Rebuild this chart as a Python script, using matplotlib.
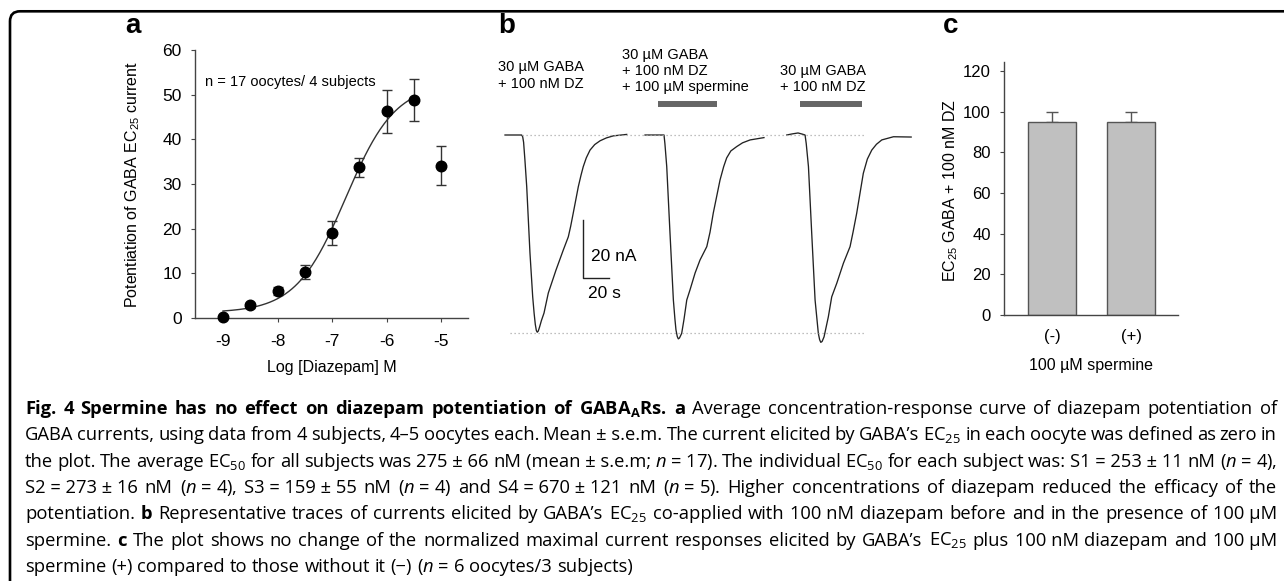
import matplotlib
matplotlib.use('Agg')
import matplotlib.pyplot as plt
import numpy as np
from matplotlib.patches import FancyBboxPatch
from matplotlib.transforms import IdentityTransform

W, H, DPI = 1284, 581, 100

plt.rcParams['font.family'] = ['Liberation Sans', 'DejaVu Sans']
plt.rcParams['mathtext.fontset'] = 'custom'
plt.rcParams['mathtext.default'] = 'regular'
plt.rcParams['mathtext.rm'] = 'Open Sans'
plt.rcParams['mathtext.it'] = 'Open Sans:italic'
plt.rcParams['mathtext.bf'] = 'Open Sans:bold'

# ---------------- panel a data ----------------
log_conc = [-9, -8.5, -8, -7.5, -7, -6.5, -6, -5.5, -5]
potentiation = [0.2, 2.8, 6.0, 10.3, 19.1, 33.7, 46.3, 48.8, 34.1]
potentiation_sem = [0.3, 0.5, 0.9, 1.5, 2.7, 2.2, 4.8, 4.8, 4.4]
fit_bottom, fit_top, fit_log_ec50, fit_hill = 1.2, 52.5, -6.75, 0.95
fit_range = (-9.0, -5.5)
a_xticks = [-9, -8, -7, -6, -5]
a_yticks = [0, 10, 20, 30, 40, 50, 60]

# ---------------- panel b data (time s, current nA) ----------------
trace_start = [0.0, 107.7, 216.7]
trace1_t = [0, 12.8, 13.6, 14.3, 15.3, 16.7, 19.2, 21.3, 22.4, 23.3, 24.1, 24.8, 25.6, 26.6,
            28.0, 30.0, 33.3, 39.2, 44.8, 48.7, 50.5, 52.5, 56.4, 58.5, 60.2, 62.5, 65.4, 69.0,
            73.1, 78.0, 83.3, 93.6]
trace1_i = [0, 0, -0.6, -2.5, -8.5, -17.8, -40.7, -55.8, -61.5, -65.3, -67.4, -68.0, -67.6,
            -66.2, -64.0, -61.4, -54.5, -46.6, -39.7, -35.1, -31.5, -26.9, -17.8, -13.8, -10.9,
            -7.9, -5.2, -3.3, -2.0, -1.0, -0.3, 0.2]
trace2_t = [0, 14.6, 15.3, 16.7, 19.2, 21.8, 23.0, 23.8, 24.8, 25.6, 26.5, 28.2, 30.0, 32.1,
            34.6, 38.5, 42.3, 47.5, 50.0, 52.5, 57.7, 60.5, 62.8, 66.0, 70.5, 75.0, 80.8, 91.5]
trace2_i = [0, 0, -3.0, -10.9, -33.8, -56.9, -63.5, -67.2, -69.5, -70.3, -70.0, -68.4, -63.5,
            -56.9, -53.4, -47.6, -43.1, -38.5, -33.5, -26.9, -15.5, -10.9, -7.9, -5.5, -4.0,
            -2.7, -1.7, -0.9]
trace3_t = [0, 4.5, 8.7, 12.0, 14.1, 15.0, 16.7, 19.2, 21.8, 24.3, 25.3, 26.2, 27.2, 28.7,
            32.0, 34.6, 38.5, 43.6, 48.7, 51.0, 53.8, 58.9, 62.0, 65.4, 69.0, 73.1, 82.1, 95.7]
trace3_i = [0, 0.4, 0.7, 0.3, 0, -3.0, -10.9, -33.8, -56.9, -68.4, -70.6, -71.5, -71.2, -69.6,
            -62.7, -55.8, -51.1, -44.2, -38.5, -33.5, -27.0, -13.2, -8.3, -5.2, -3.2, -1.7,
            -0.6, -0.7]
baseline_ref = (0.0, 13.0, 276.0)        # level, t from, t to
peak_ref = (-68.3, 4.0, 277.0)
application_start = [117.7, 226.9]
application_dur = [45.3, 47.7]
application_level = 10.7
scale_t0, scale_i0 = 60.3, -49.4
scale_nA, scale_s = 20, 20
b_labels = ["30 µM GABA\n+ 100 nM DZ",
            "30 µM GABA\n+ 100 nM DZ\n+ 100 µM spermine",
            "30 µM GABA\n+ 100 nM DZ"]

# ---------------- panel c data ----------------
c_groups = ['(-)', '(+)']
c_values = [95, 95]
c_sem = [5, 5]
c_yticks = [0, 20, 40, 60, 80, 100, 120]

# ---------------- caption ----------------
caption_lines = [
    [('b', r"Fig. 4 Spermine has no effect on diazepam potentiation of GABA$_A$Rs. a"),
     ('r', "Average concentration-response curve of diazepam potentiation of")],
    [('r', r"GABA currents, using data from 4 subjects, 4–5 oocytes each. Mean~±~s.e.m. The current elicited by GABA’s EC$_{25}$ in each oocyte was defined as zero in")],
    [('r', r"the plot. The average EC$_{50}$ for all subjects was 275~±~66 nM (mean~±~s.e.m; $\mathit{n}$~=~17). The individual EC$_{50}$ for each subject was: S1~=~253~±~11 nM ($\mathit{n}$~=~4),")],
    [('r', r"S2~=~273~±~16 nM ($\mathit{n}$~=~4), S3~=~159~±~55 nM ($\mathit{n}$~=~4) and S4~=~670~±~121 nM ($\mathit{n}$~=~5). Higher concentrations of diazepam reduced the efficacy of the")],
    [('r', "potentiation."), ('b', "b"),
     ('r', r"Representative traces of currents elicited by GABA’s EC$_{25}$ co-applied with 100~nM diazepam before and in the presence of 100~µM")],
    [('r', "spermine."), ('b', "c"),
     ('r', r"The plot shows no change of the normalized maximal current responses elicited by GABA’s EC$_{25}$ plus 100~nM diazepam and 100~µM")],
    [('r', r"spermine (+) compared to those without it (−) ($\mathit{n}$~=~6 oocytes/3 subjects)")],
]

# =====================================================================
fig = plt.figure(figsize=(W / DPI, H / DPI), dpi=DPI)
renderer = fig.canvas.get_renderer()


def fx(x):
    return x / W


def fy(y):
    return 1 - y / H


def axes_px(left, top, right, bottom):
    return fig.add_axes([fx(left), fy(bottom), (right - left) / W, (bottom - top) / H])


# border
border = FancyBboxPatch((10, -60), 1400, H - 11.3 + 60,
                        boxstyle='round,pad=0,rounding_size=10',
                        transform=IdentityTransform(), fill=False,
                        edgecolor='black', linewidth=1.9)
fig.add_artist(border)

SP = '#444444'

# ---------------- panel a ----------------
axa = axes_px(195, 50, 468, 318)
axa.set_xlim(-9.514, -4.505)
axa.set_ylim(0, 60)
xx = np.linspace(fit_range[0], fit_range[1], 200)
yy = fit_bottom + (fit_top - fit_bottom) / (1 + 10 ** ((fit_log_ec50 - xx) * fit_hill))
axa.plot(xx, yy, color='#333333', lw=1.0, zorder=2)
axa.errorbar(log_conc, potentiation, yerr=potentiation_sem, fmt='none', ecolor='#333333',
             elinewidth=1.0, capsize=3.5, capthick=1.0, zorder=3, clip_on=False)
axa.plot(log_conc, potentiation, 'o', color='black', ms=7.6, zorder=4, clip_on=False)
for s in ['top', 'right']:
    axa.spines[s].set_visible(False)
for s in ['left', 'bottom']:
    axa.spines[s].set_color(SP)
    axa.spines[s].set_linewidth(1.0)
axa.set_xticks(a_xticks)
axa.set_xticklabels([str(v) for v in a_xticks])
axa.set_yticks(a_yticks)
axa.tick_params(axis='x', length=3, width=0.8, color=SP, pad=8.5, labelsize=12.5)
axa.tick_params(axis='y', length=3, width=0.8, color=SP, pad=6.5, labelsize=12.5)
fig.text(fx(133), fy(184), 'Potentiation of GABA EC$_{25}$ current', rotation=90,
         ha='center', va='center', fontsize=11.5)
fig.text(fx(332), fy(372), 'Log [Diazepam] M', ha='center', va='baseline', fontsize=11.5)
fig.text(fx(205), fy(86), 'n = 17 oocytes/ 4 subjects', ha='left', va='baseline', fontsize=10.5)
fig.text(fx(125), fy(33), 'a', ha='left', va='baseline', fontsize=20, fontweight='bold')

# ---------------- panel b ----------------
axb = axes_px(490, 40, 920, 350)
axb.set_xlim(-11.54, 319.2)
axb.set_ylim(-74.14, 32.76)
axb.axis('off')
for t0, tt, ii in zip(trace_start, [trace1_t, trace2_t, trace3_t], [trace1_i, trace2_i, trace3_i]):
    axb.plot(np.asarray(tt) + t0, ii, color='#222222', lw=0.95, solid_joinstyle='round')
for lvl, a0, a1 in [baseline_ref, peak_ref]:
    axb.plot([a0, a1], [lvl, lvl], color='#aaaaaa', lw=0.9, linestyle=(0, (1, 2.2)))
for s0, d in zip(application_start, application_dur):
    axb.plot([s0, s0 + d], [application_level, application_level], color='#666666',
             lw=4.3, solid_capstyle='butt')
axb.plot([scale_t0, scale_t0, scale_t0 + scale_s], [scale_i0 + scale_nA, scale_i0, scale_i0],
         color='#222222', lw=1.0)
axb.text(scale_t0 + 5.9, scale_i0 + 6.0, f'{scale_nA} nA', ha='left', va='baseline', fontsize=12.5)
axb.text(scale_t0 + 3.3, scale_i0 - 6.7, f'{scale_s} s', ha='left', va='baseline', fontsize=12.5)
for lab, (lx, ly) in zip(b_labels, [(498, 71.5), (622, 58.5), (780, 74.5)]):
    for k, line in enumerate(lab.split('\n')):
        fig.text(fx(lx), fy(ly + 16.5 * k), line, ha='left', va='baseline', fontsize=10.5)
fig.text(fx(498), fy(33), 'b', ha='left', va='baseline', fontsize=20, fontweight='bold')

# ---------------- panel c ----------------
axc = axes_px(1004, 62, 1178, 315)
xc = np.arange(len(c_groups))
axc.bar(xc, c_values, width=0.61, color='#c0c0c0', edgecolor='#555555', linewidth=1.0, zorder=2)
axc.errorbar(xc, c_values, yerr=[[0] * len(c_sem), c_sem], fmt='none', ecolor='#555555',
             elinewidth=1.0, capsize=4, capthick=1.0, zorder=1)
axc.set_xlim(-0.608, 1.595)
axc.set_ylim(0, 124.4)
for s in ['top', 'right']:
    axc.spines[s].set_visible(False)
for s in ['left', 'bottom']:
    axc.spines[s].set_color(SP)
    axc.spines[s].set_linewidth(1.0)
axc.set_xticks(xc)
axc.set_xticklabels(c_groups)
axc.set_yticks(c_yticks)
axc.tick_params(axis='x', length=0, pad=10, labelsize=12)
axc.tick_params(axis='y', length=3, width=0.8, color=SP, pad=6.5, labelsize=12)
fig.text(fx(951), fy(190), 'EC$_{25}$ GABA + 100 nM DZ', rotation=90,
         ha='center', va='center', fontsize=11.5)
fig.text(fx(1091), fy(370), '100 µM spermine', ha='center', va='baseline', fontsize=11.5)
fig.text(fx(943), fy(33), 'c', ha='left', va='baseline', fontsize=20, fontweight='bold')

# ---------------- caption (justified) ----------------
CAP_FONT = ['Open Sans', 'DejaVu Sans']
CAP_LEFT, CAP_RIGHT = 25, 1277
CAP_BASE0, CAP_STEP = 414, 26.3


def tokens_of(line):
    out = []
    for style, seg in line:
        for w in seg.split(' '):
            if w:
                out.append((style, w.replace('~', '\u00a0')))
    return out


def measure(tokens, size):
    ws = []
    for style, w in tokens:
        t = fig.text(0, 0, w, fontsize=size, family=CAP_FONT,
                     fontweight='bold' if style == 'b' else 'normal')
        ws.append(t.get_window_extent(renderer).width)
        t.remove()
    return ws


all_tokens = [tokens_of(l) for l in caption_lines]
size0 = 14.4
need = 0
for toks in all_tokens[:-1]:
    ws = measure(toks, size0)
    need = max(need, sum(ws) + (len(ws) - 1) * 0.22 * size0 * DPI / 72)
cap_size = size0 * min(1.0, (CAP_RIGHT - CAP_LEFT) / need)

for i, toks in enumerate(all_tokens):
    ws = measure(toks, cap_size)
    if i < len(all_tokens) - 1:
        gap = (CAP_RIGHT - CAP_LEFT - sum(ws)) / (len(ws) - 1)
    else:
        gap = 0.26 * cap_size * DPI / 72
    x = CAP_LEFT
    yb = CAP_BASE0 + CAP_STEP * i
    for (style, w), wd in zip(toks, ws):
        fig.text(fx(x), fy(yb), w, fontsize=cap_size, family=CAP_FONT,
                 fontweight='bold' if style == 'b' else 'normal', ha='left', va='baseline')
        x += wd + gap

fig.savefig('out.png', dpi=DPI)
